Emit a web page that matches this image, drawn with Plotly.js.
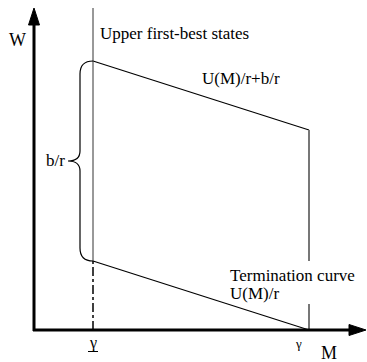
<!DOCTYPE html>
<html><head><meta charset="utf-8">
<script src="https://cdn.plot.ly/plotly-3.0.1.min.js"></script>
</head><body><div id="c" style="position:absolute;left:0;top:0"></div>
<script>
// Data
var mStates = [0.59, 2.75];          // [gamma_lower, gamma]
var termCurve = [0.69, 0.0];         // termination curve U(M)/r at those states
var bOverR = 2.0;                    // b/r
var upperCurve = termCurve.map(function(u){ return u + bOverR; });  // U(M)/r + b/r
var wAxisTop = 3.22;                 // top of W axis
var mAxisRight = 3.32;               // right end of M axis

(function(){
var fam = "Liberation Serif, serif";
var gL = mStates[0], gH = mStates[1];

var traces = [
  {x: mStates, y: upperCurve, mode:'lines', line:{color:'#000', width:1.2}, hoverinfo:'skip'},
  {x: mStates, y: termCurve, mode:'lines', line:{color:'#000', width:1.2}, hoverinfo:'skip'},
  {x:[gL,gL], y:[termCurve[0], wAxisTop], mode:'lines', line:{color:'#333', width:1}, hoverinfo:'skip'},
  {x:[gL,gL], y:[0, termCurve[0]], mode:'lines', line:{color:'#000', width:1.5, dash:'dashdot'}, hoverinfo:'skip'},
  {x:[gH,gH], y:[0.69, upperCurve[1]], mode:'lines', line:{color:'#777', width:2}, hoverinfo:'skip'},
  {x:[gH,gH], y:[0, 0.26], mode:'lines', line:{color:'#777', width:2}, hoverinfo:'skip'}
];

var yT = upperCurve[0], yB = termCurve[0], yM = (yT + yB) / 2;
var bx = gL - 0.13, tx = gL - 0.25;
var brace = 'M'+gL+','+yT+' Q'+bx+','+yT+' '+bx+','+(yT-0.13)+
  ' L'+bx+','+(yM+0.1)+' Q'+bx+','+yM+' '+tx+','+yM+
  ' Q'+bx+','+yM+' '+bx+','+(yM-0.1)+
  ' L'+bx+','+(yB+0.13)+' Q'+bx+','+yB+' '+gL+','+yB;

var shapes = [
  {type:'path', xref:'x', yref:'y', path:brace, line:{color:'#000', width:1.2}},
  {type:'line', xref:'x', yref:'y', x0:0, y0:-0.01, x1:0, y1:wAxisTop-0.15, line:{color:'#000', width:3}},
  {type:'line', xref:'x', yref:'y', x0:-0.01, y0:0, x1:mAxisRight-0.15, y1:0, line:{color:'#000', width:3}},
  {type:'path', xref:'x', yref:'y', path:'M0,'+wAxisTop+' L-0.055,'+(wAxisTop-0.17)+' L0.055,'+(wAxisTop-0.17)+' Z', fillcolor:'#000', line:{color:'#000', width:1}},
  {type:'path', xref:'x', yref:'y', path:'M'+mAxisRight+',0 L'+(mAxisRight-0.17)+',-0.055 L'+(mAxisRight-0.17)+',0.055 Z', fillcolor:'#000', line:{color:'#000', width:1}},
  {type:'line', xref:'x', yref:'y', x0:gL-0.05, y0:-0.215, x1:gL+0.05, y1:-0.215, line:{color:'#000', width:1}}
];

function ann(t, x, y, xa, size){
  return {text:t, x:x, y:y, xref:'x', yref:'y', xanchor:xa, yanchor:'middle', showarrow:false,
          font:{family:fam, size:size||17, color:'#000'}};
}
var annotations = [
  ann('W', -0.17, 2.90, 'center', 18),
  ann('Upper first-best states', 0.635, 2.97, 'left'),
  ann('U(M)/r+b/r', 1.66, 2.52, 'left'),
  ann('b/r', tx-0.01, yM+0.01, 'right'),
  ann('Termination curve', 1.94, 0.55, 'left'),
  ann('U(M)/r', 1.94, 0.37, 'left'),
  ann('γ', gL, -0.13, 'center', 16),
  ann('γ', gH-0.11, -0.13, 'center', 13),
  ann('M', 2.95, -0.225, 'center', 18)
];

var layout = {
  width:367, height:362, margin:{l:0,r:0,t:0,b:0},
  font:{family:fam},
  paper_bgcolor:'#fff', plot_bgcolor:'#fff', showlegend:false,
  xaxis:{range:[-0.34,3.33], visible:false, fixedrange:true},
  yaxis:{range:[-0.32,3.30], visible:false, fixedrange:true},
  shapes:shapes, annotations:annotations
};
Plotly.newPlot('c', traces, layout, {staticPlot:true, displayModeBar:false});
})();
</script></body></html>
